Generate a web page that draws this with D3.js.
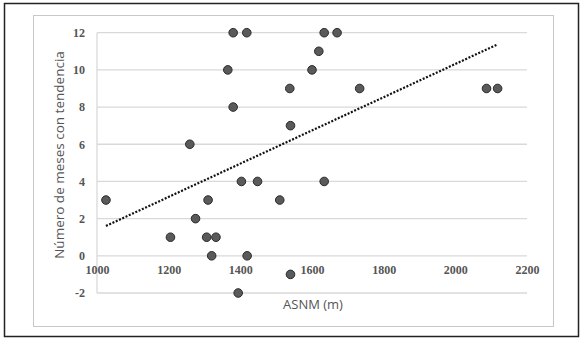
<!DOCTYPE html>
<html><head><meta charset="utf-8">
<script src="https://cdn.jsdelivr.net/npm/d3@7"></script>
<style>body{margin:0;background:#fff}svg{display:block}</style>
</head><body>
<script>
const asnm = [1025,1205,1259,1275,1310,1306,1332,1320,1365,1380,1380,1418,1403,1419,1394,1448,1510,1538,1540,1540,1600,1619,1634,1670,1634,1733,2087,2118];
const meses = [3,1,6,2,3,1,1,0,10,12,8,12,4,0,-2,4,3,9,7,-1,10,11,12,12,4,9,9,9];
const xTicks = [1000,1200,1400,1600,1800,2000,2200];
const yTicks = [-2,0,2,4,6,8,10,12];
const xTitle = "ASNM (m)";
const yTitle = "Número de meses con tendencia";

const W=585,H=341;
const svg=d3.select("body").append("svg").attr("width",W).attr("height",H);
svg.append("rect").attr("x",4.5).attr("y",3.5).attr("width",574).attr("height",333).attr("fill","#fff").attr("stroke","#222").attr("stroke-width",1.5);
svg.append("rect").attr("x",33.5).attr("y",15.5).attr("width",520).attr("height",311).attr("fill","#fff").attr("stroke","#c8c8c8").attr("stroke-width",1);

const x=d3.scaleLinear().domain([1000,2200]).range([97,527]);
const y=d3.scaleLinear().domain([-2,12]).range([293,32.7]);

svg.append("g").selectAll("line").data(yTicks).join("line")
  .attr("x1",x(1000)).attr("x2",x(2200)).attr("y1",d=>y(d)).attr("y2",d=>y(d))
  .attr("stroke","#d9d9d9").attr("stroke-width",1.3);
svg.append("line").attr("x1",x(1000)).attr("x2",x(1000)).attr("y1",y(12)).attr("y2",y(-2)).attr("stroke","#d9d9d9").attr("stroke-width",1.3);

const yAxis=d3.axisLeft(y).tickValues(yTicks).tickSize(0).tickPadding(12).tickFormat(d=>d<0?"-"+Math.abs(d):d);
const gy=svg.append("g").attr("transform",`translate(${x(1000)},0)`).call(yAxis);
gy.select(".domain").remove();
gy.selectAll("text").attr("font-family","Liberation Serif, serif").attr("font-weight","bold").attr("font-size","12px").attr("fill","#555");

const xAxis=d3.axisBottom(x).tickValues(xTicks).tickSize(0).tickPadding(10).tickFormat(d3.format("d"));
const gx=svg.append("g").attr("transform",`translate(0,${y(0)})`).call(xAxis);
gx.select(".domain").remove();
gx.selectAll("text").attr("font-family","Liberation Serif, serif").attr("font-weight","bold").attr("font-size","12px").attr("fill","#555");

const n=asnm.length, mx=d3.mean(asnm), my=d3.mean(meses);
let sxy=0,sxx=0; for(let i=0;i<n;i++){sxy+=(asnm[i]-mx)*(meses[i]-my);sxx+=(asnm[i]-mx)**2;}
const b=sxy/sxx,a=my-b*mx;
const [x0,x1]=d3.extent(asnm);
svg.append("line").attr("x1",x(x0)).attr("y1",y(a+b*x0)).attr("x2",x(x1)).attr("y2",y(a+b*x1))
  .attr("stroke","#111").attr("stroke-width",2.2).attr("stroke-dasharray","2,1.6");

svg.append("g").selectAll("circle").data(asnm.map((d,i)=>[d,meses[i]])).join("circle")
  .attr("cx",d=>x(d[0])).attr("cy",d=>y(d[1])).attr("r",4.3)
  .attr("fill","#5a5a5a").attr("stroke","#2a2a2a").attr("stroke-width",1);

svg.append("text").attr("x",313).attr("y",309).attr("text-anchor","middle")
  .attr("font-family","Open Sans, sans-serif").attr("font-size","13px").attr("fill","#555").text(xTitle);
svg.append("text").attr("transform","translate(64,155) rotate(-90)").attr("text-anchor","middle")
  .attr("font-family","Open Sans, sans-serif").attr("font-size","13.5px").attr("fill","#555").text(yTitle);
</script>
</body></html>
